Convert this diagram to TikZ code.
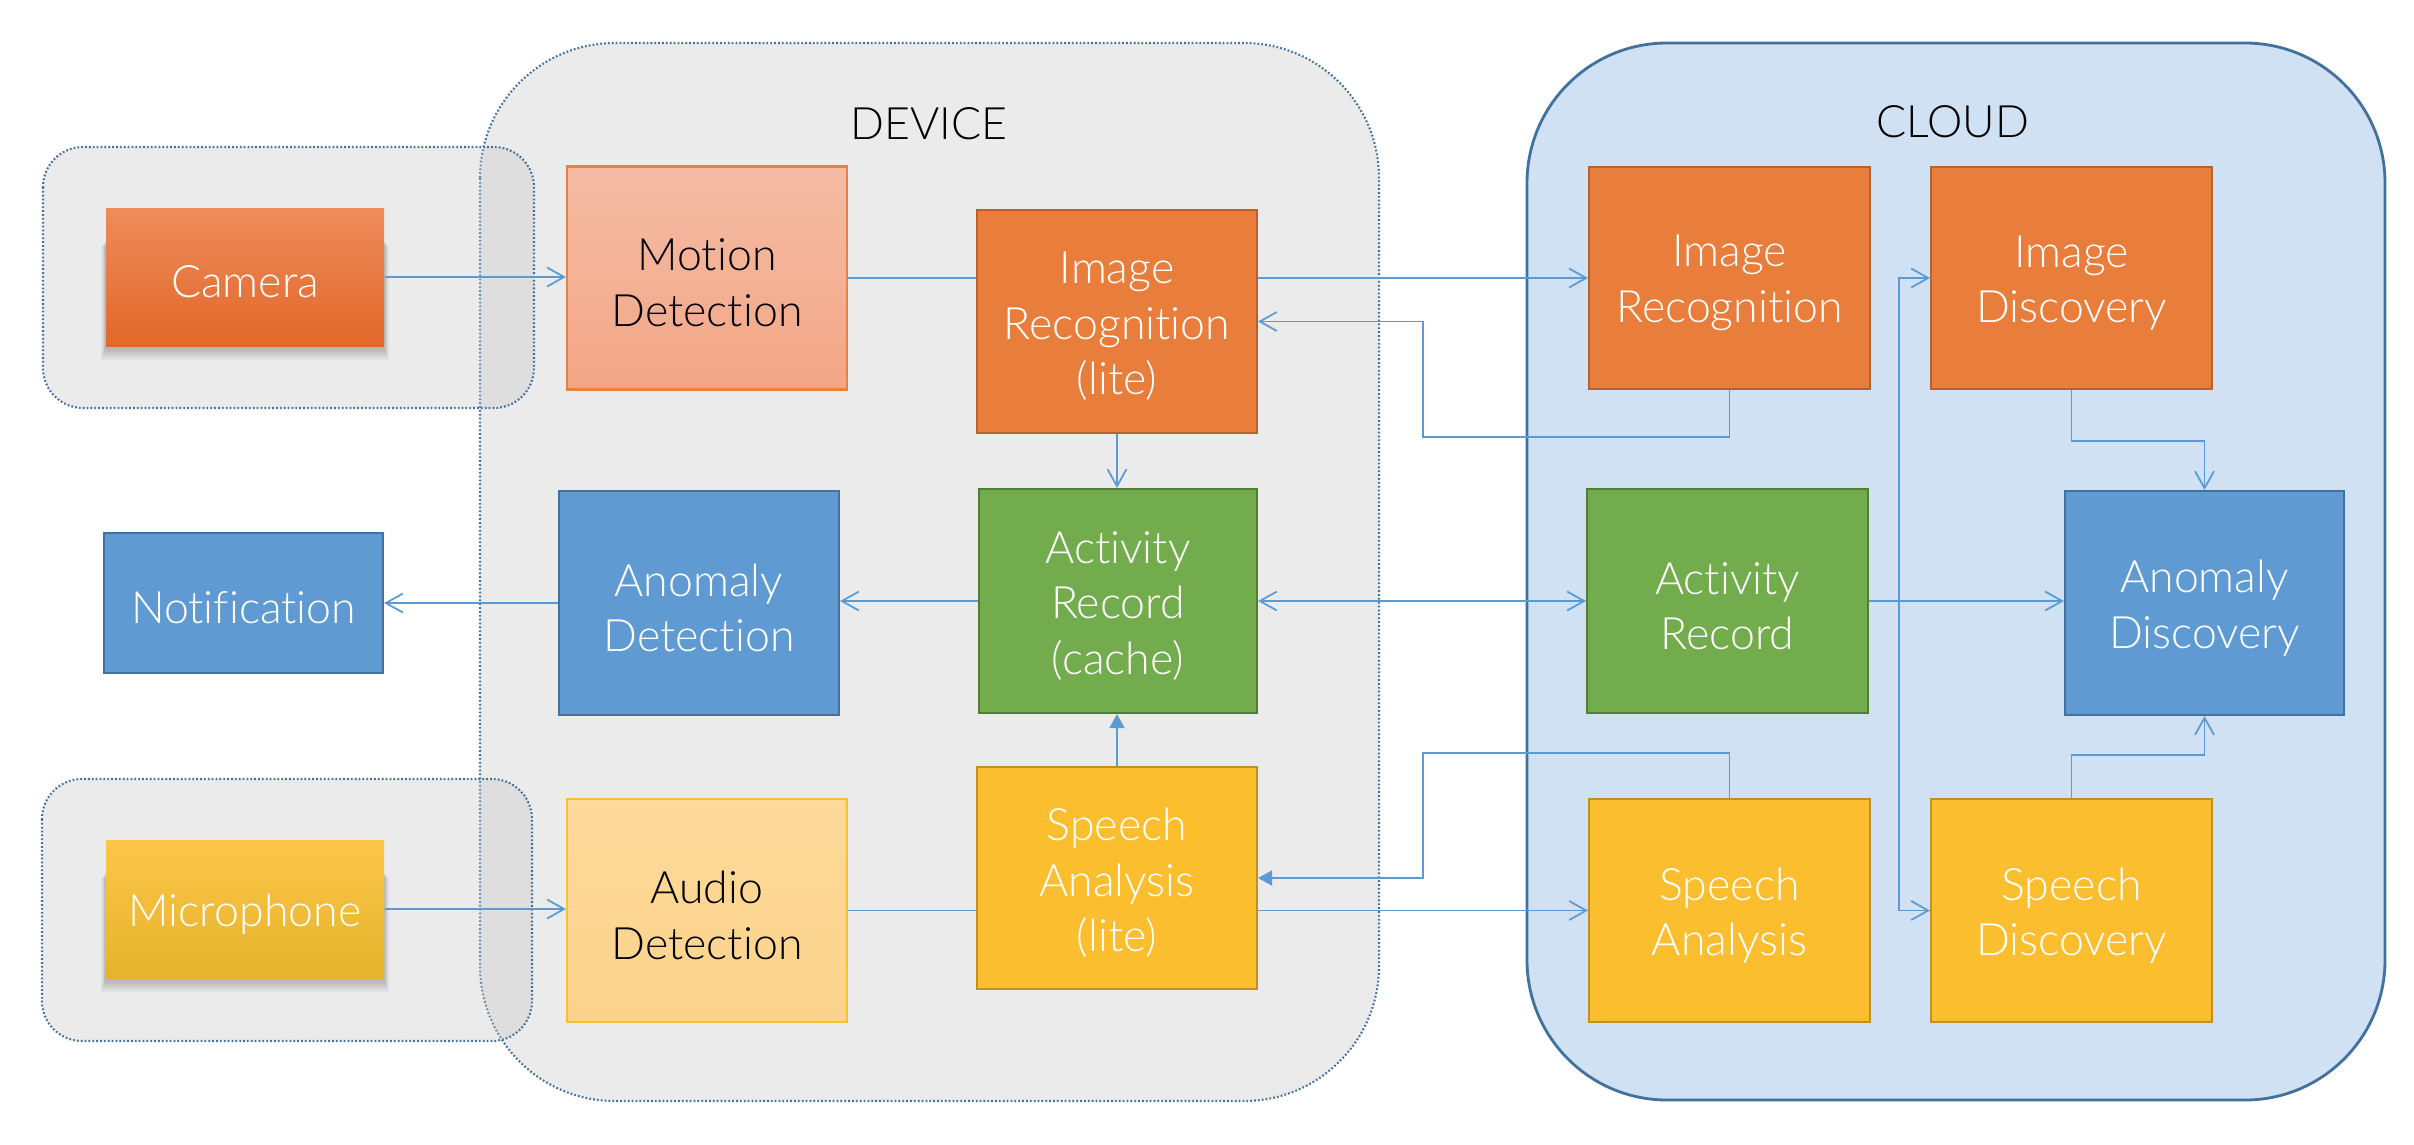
\documentclass[tikz,border=0pt]{standalone}
\usepackage{fontspec}
\setmainfont{Lato Light}[Ligatures=NoCommon]
\usetikzlibrary{arrows.meta}
\definecolor{cOr}{HTML}{E97D3C}
\definecolor{cOrD}{HTML}{B7612B}
\definecolor{cBl}{HTML}{5F9BD2}
\definecolor{cBlD}{HTML}{41719C}
\definecolor{cGr}{HTML}{73AC4C}
\definecolor{cGrD}{HTML}{507E32}
\definecolor{cYe}{HTML}{FBBE2E}
\definecolor{cYeD}{HTML}{C3901F}
\definecolor{cSalT}{HTML}{F4BCA5}
\definecolor{cSalB}{HTML}{F3A686}
\definecolor{cSalD}{HTML}{EE7F3A}
\definecolor{cLyT}{HTML}{FDD99A}
\definecolor{cLyB}{HTML}{FCD38B}
\definecolor{cLyD}{HTML}{FBBE2E}
\definecolor{cDev}{HTML}{EBEBEB}
\definecolor{cGrp}{HTML}{C6C6C6}
\definecolor{cCloud}{HTML}{CFE1F2}
\definecolor{cLine}{HTML}{5B9BD5}
\definecolor{cBord}{HTML}{41719C}
\definecolor{camT}{HTML}{EE8C5A}
\definecolor{camM}{HTML}{F17B34}
\definecolor{camB}{HTML}{E2672A}
\definecolor{micT}{HTML}{FDC54A}
\definecolor{micM}{HTML}{FCC132}
\definecolor{micB}{HTML}{E5B42A}
\newcommand\boxfont{\fontsize{12.7}{15.8}\selectfont}
\tikzset{
  blk/.style={rectangle, inner sep=0pt, line width=0.6pt,
              minimum width=28mm, minimum height=22.3mm},
  org/.style={blk, fill=cOr, draw=cOrD},
  blu/.style={blk, fill=cBl, draw=cBlD},
  grn/.style={blk, fill=cGr, draw=cGrD},
  yel/.style={blk, fill=cYe, draw=cYeD},
  sal/.style={blk, top color=cSalT, bottom color=cSalB, draw=cSalD},
  lyel/.style={blk, top color=cLyT, bottom color=cLyB, draw=cLyD},
  src/.style={blk, minimum width=27.8mm, minimum height=13.8mm, draw=none},
  wtxt/.style={font=\boxfont, align=center, inner sep=0pt, text=white, yshift=-0.5mm},
  btxt/.style={wtxt, text=black},
  plainline/.style={draw=cLine, line width=0.5pt},
  conn/.style={plainline, -{Straight Barb[length=1.7mm,width=1.9mm]}},
  biconn/.style={plainline, {Straight Barb[length=1.7mm,width=1.9mm]}-{Straight Barb[length=1.7mm,width=1.9mm]}},
  fconn/.style={plainline, -{Triangle[length=1.4mm,width=1.5mm]}},
  dotborder/.style={draw=cBord, line width=0.6pt, dash pattern=on 0.5pt off 0.6pt},
  lbl/.style={font=\boxfont, text=black}
}
\begin{document}
\begin{tikzpicture}[x=0.1mm, y=-0.1mm]
\useasboundingbox (0,0) rectangle (2414,1144);
% containers
\draw[dotborder, fill=cDev, rounded corners=13.5mm] (480,43) rectangle (1379,1101);
\draw[draw=cBord, line width=0.8pt, fill=cCloud, rounded corners=14mm] (1527,43) rectangle (2385,1100);
\draw[dotborder, fill=cGrp, fill opacity=0.35, rounded corners=4mm] (43,147) rectangle (534,408);
\draw[dotborder, fill=cGrp, fill opacity=0.35, rounded corners=4mm] (42,779) rectangle (532,1041);
\node[lbl] (devlbl) at (929,124) {DEVICE};
\node[lbl] (cldlbl) at (1953,122) {CLOUD};
% shadows of sources
\foreach \i in {1,...,6}{
  \fill[black, opacity=0.04] (106-0.8*\i,240+\i) rectangle (384+0.8*\i,348+2*\i);
  \fill[black, opacity=0.04] (106-0.8*\i,872+\i) rectangle (384+0.8*\i,980+2*\i);
}
% nodes
\node[src, top color=camT, middle color=camM, bottom color=camB,
      label={[wtxt]center:Camera}] (cam) at (245,277) {};
\node[src, top color=micT, middle color=micM, bottom color=micB,
      label={[wtxt]center:Microphone}] (mic) at (245,909) {};
\node[sal, label={[btxt]center:{Motion\\Detection}}] (md) at (707,278) {};
\node[org, label={[wtxt]center:{Image\\Recognition\\(lite)}}] (irl) at (1117,321.5) {};
\node[blu, minimum width=27.9mm, minimum height=14mm,
      label={[wtxt]center:Notification}] (notif) at (243.5,603) {};
\node[blu, minimum height=22.4mm, label={[wtxt]center:{Anomaly\\Detection}}] (ad) at (699,603) {};
\node[grn, minimum width=27.8mm, minimum height=22.4mm,
      label={[wtxt]center:{Activity\\Record\\(cache)}}] (arc) at (1118,601) {};
\node[lyel, label={[btxt]center:{Audio\\Detection}}] (aud) at (707,910.5) {};
\node[yel, minimum height=22.2mm, label={[wtxt]center:{Speech\\Analysis\\(lite)}}] (spl) at (1117,878) {};
\node[org, minimum width=28.1mm, minimum height=22.2mm,
      label={[wtxt]center:{Image\\Recognition}}] (irc) at (1729.5,278) {};
\node[org, minimum width=28.1mm, minimum height=22.2mm,
      label={[wtxt]center:{Image\\Discovery}}] (idisc) at (2071.5,278) {};
\node[grn, minimum width=28.1mm, minimum height=22.4mm,
      label={[wtxt]center:{Activity\\Record}}] (arcl) at (1727.5,601) {};
\node[blu, minimum width=27.9mm, minimum height=22.4mm,
      label={[wtxt]center:{Anomaly\\Discovery}}] (adisc) at (2204.5,603) {};
\node[yel, minimum width=28.1mm, label={[wtxt]center:{Speech\\Analysis}}] (sac) at (1729.5,910.5) {};
\node[yel, minimum width=28.1mm, label={[wtxt]center:{Speech\\Discovery}}] (sdisc) at (2071.5,910.5) {};
% helper coordinates
\coordinate (rA) at (1423,437);
\coordinate (rB) at (1423,753);
\coordinate (jn) at (1899,601);
% connectors
\draw[conn] (cam.east) -- (cam.east -| md.west);
\draw[plainline] (md.east) -- (md.east -| irl.west);
\draw[conn] (irc.west -| irl.east) -- (irc.west);
\draw[conn] (irc.south) |- (rA) |- (irl.east);
\draw[conn] (irl.south) -- (irl.south |- arc.north);
\draw[biconn] (arc.east) -- (arcl.west);
\draw[conn] (arc.west) -- (arc.west -| ad.east);
\draw[conn] (ad.west) -- (ad.west -| notif.east);
\draw[conn] (mic.east) -- (mic.east -| aud.west);
\draw[plainline] (aud.east) -- (aud.east -| spl.west);
\draw[conn] (sac.west -| spl.east) -- (sac.west);
\draw[fconn] (sac.north) |- (rB) |- (spl.east);
\draw[fconn] (spl.north) -- (spl.north |- arc.south);
\draw[plainline] (arcl.east) -- (jn);
\draw[conn] (jn) |- (idisc.west);
\draw[conn] (jn) |- (sdisc.west);
\draw[conn] (jn) -- (jn -| adisc.west);
\draw[conn] (idisc.south) -- ++(0,51) -| (adisc.north);
\draw[conn] (sdisc.north) -- ++(0,-43) -| (adisc.south);
\end{tikzpicture}
\end{document}
